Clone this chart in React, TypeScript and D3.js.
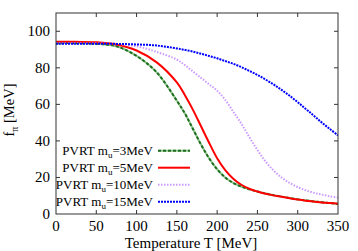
import React from "react";
import * as d3 from "d3";

const temps = [0, 25, 50, 75, 100, 125, 150, 160, 170, 180, 190, 200, 210, 220, 230, 240, 250, 260, 270, 280, 290, 300, 310, 320, 330, 340, 350];
const m3 = [93.5, 93.5, 93.2, 91.8, 86.5, 77.5, 62, 55, 46.5, 38, 30.5, 24.5, 20, 17, 15, 13.5, 12.3, 11.2, 10.3, 9.5, 8.7, 8, 7.4, 6.9, 6.4, 6, 5.5];
const m5 = [94.2, 94.2, 94, 92.8, 89.5, 83, 72, 65, 57, 48, 39, 30.5, 24, 19.3, 16, 13.8, 12.3, 11.1, 10.2, 9.4, 8.6, 7.9, 7.3, 6.8, 6.3, 6, 5.6];
const m10 = [93.5, 93.5, 93.4, 93, 91.8, 88.7, 84.5, 81.5, 78, 74.5, 71, 67.5, 62.5, 56, 49.5, 42, 35, 28.8, 23.8, 20, 17, 14.7, 13, 11.6, 10.6, 9.7, 9];
const m15 = [93.2, 93.2, 93.2, 93.1, 92.8, 92.2, 90.6, 89.8, 88.9, 87.7, 86.5, 85.2, 83.7, 82.2, 80.4, 78.3, 76.1, 73.6, 70.9, 67.9, 64.7, 61.2, 57.5, 53.8, 50, 46.5, 43];
const legendMass = ["3", "5", "10", "15"];
const xTicks = [0, 50, 100, 150, 200, 250, 300, 350];
const yTicks = [0, 20, 40, 60, 80, 100];

const W = 358, H = 251;
const L = 56, R = 338, T = 13, B = 214;
const FF = "Liberation Serif";

export default function App() {
  const x = d3.scaleLinear().domain([0, 350]).range([L, R]);
  const y = d3.scaleLinear().domain([0, 110]).range([B, T]);
  const line = d3.line<number>()
    .x((_, i) => x(temps[i]))
    .y((d) => y(d))
    .curve(d3.curveCatmullRom.alpha(0.5));

  const styles = [
    { data: m3, layers: [{ stroke: "#8fc48f", dash: undefined, w: 2 }, { stroke: "#1f6e1f", dash: "3,2", w: 2 }] },
    { data: m5, layers: [{ stroke: "#ff0000", dash: undefined, w: 2 }] },
    { data: m10, layers: [{ stroke: "#cc99ff", dash: "1.5,1.5", w: 2 }] },
    { data: m15, layers: [{ stroke: "#0000ff", dash: "2,1", w: 2 }] },
  ];
  const legY = [150.7, 167.7, 184.7, 201.7];

  return (
    <svg width={W} height={H} fontFamily={FF} style={{ position: "absolute", left: 0, top: 0 }}>
      <rect x={0} y={0} width={W} height={H} fill="#fff" />
      <defs>
        <clipPath id="plot">
          <rect x={L} y={T} width={R - L} height={B - T} />
        </clipPath>
      </defs>
      {xTicks.slice(1, -1).map((t) => (
        <g key={"xt" + t}>
          <line x1={x(t)} x2={x(t)} y1={B} y2={B - 4} stroke="#333" />
          <line x1={x(t)} x2={x(t)} y1={T} y2={T + 4} stroke="#333" />
        </g>
      ))}
      {yTicks.slice(1).map((t) => (
        <g key={"yt" + t}>
          <line x1={L} x2={L + 4} y1={y(t)} y2={y(t)} stroke="#333" />
          <line x1={R} x2={R - 4} y1={y(t)} y2={y(t)} stroke="#333" />
        </g>
      ))}
      {xTicks.map((t) => (
        <text key={"xl" + t} x={x(t)} y={231} fontSize={15} textAnchor="middle" fill="#000" fontFamily={FF}>{t}</text>
      ))}
      {yTicks.map((t) => (
        <text key={"yl" + t} x={50} y={y(t) + 5} fontSize={15} textAnchor="end" fill="#000" fontFamily={FF}>{t}</text>
      ))}
      <text x={191} y={248} fontSize={15} textAnchor="middle" fill="#000" fontFamily={FF}>Temperature T [MeV]</text>
      <text transform={`translate(14,110) rotate(-90)`} fontSize={14.5} textAnchor="middle" fill="#000" fontFamily={FF}>
        f<tspan fontSize={10} dy={4}>π</tspan><tspan dy={-4}> [MeV]</tspan>
      </text>
      <g clipPath="url(#plot)">
        {styles.map((s, i) =>
          s.layers.map((ly, j) => (
            <path key={i + "-" + j} d={line(s.data) || ""} fill="none" stroke={ly.stroke} strokeWidth={ly.w} strokeDasharray={ly.dash} />
          ))
        )}
      </g>
      {legendMass.map((m, i) => (
        <g key={"lg" + m}>
          <text x={153} y={legY[i] + 4.5} fontSize={13} textAnchor="end" fill="#000" fontFamily={FF}>
            PVRT m<tspan fontSize={9} dy={3}>u</tspan><tspan dy={-3}>={m}MeV</tspan>
          </text>
          {styles[i].layers.map((ly, j) => (
            <line key={j} x1={158} x2={190} y1={legY[i]} y2={legY[i]} stroke={ly.stroke} strokeWidth={ly.w} strokeDasharray={ly.dash} />
          ))}
        </g>
      ))}
      <rect x={L} y={T} width={R - L} height={B - T} fill="none" stroke="#333" strokeWidth={1} />
    </svg>
  );
}
